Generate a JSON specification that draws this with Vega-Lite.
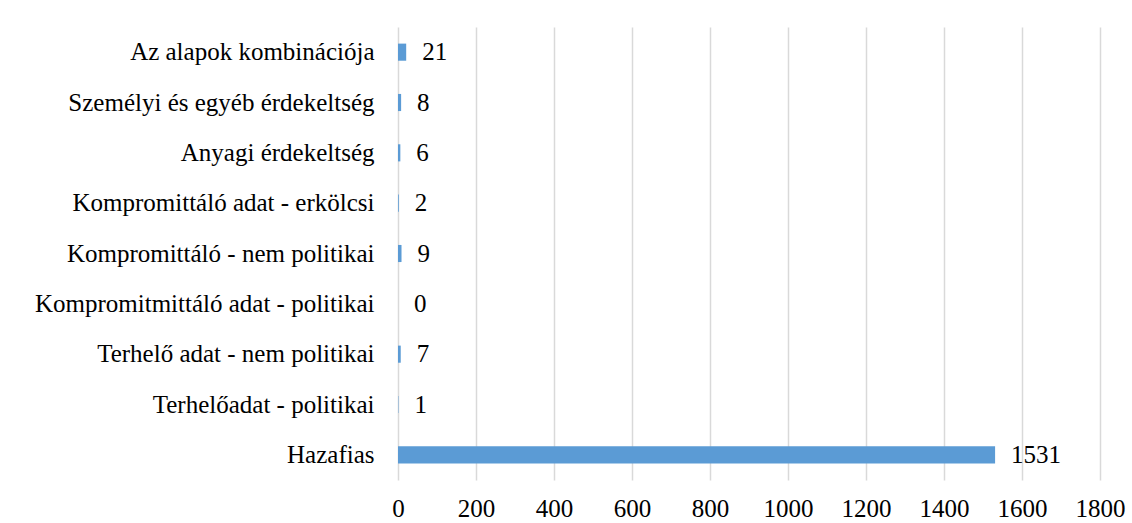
{
  "$schema": "https://vega.github.io/schema/vega-lite/v6.json",
  "autosize": "none",
  "width": 702,
  "height": 453,
  "padding": {"left": 398, "top": 27, "right": 32, "bottom": 43},
  "background": "white",
  "config": {
    "view": {"stroke": null},
    "font": "'Liberation Serif', 'DejaVu Serif', serif"
  },
  "data": {
    "values": [
      {"kategoria": "Az alapok kombinációja", "db": 21},
      {"kategoria": "Személyi és egyéb érdekeltség", "db": 8},
      {"kategoria": "Anyagi érdekeltség", "db": 6},
      {"kategoria": "Kompromittáló adat - erkölcsi", "db": 2},
      {"kategoria": "Kompromittáló - nem politikai", "db": 9},
      {"kategoria": "Kompromitmittáló adat - politikai", "db": 0},
      {"kategoria": "Terhelő adat - nem politikai", "db": 7},
      {"kategoria": "Terhelőadat - politikai", "db": 1},
      {"kategoria": "Hazafias", "db": 1531}
    ]
  },
  "encoding": {
    "y": {
      "field": "kategoria",
      "type": "nominal",
      "sort": null,
      "scale": {"paddingInner": 0.66, "paddingOuter": 0.33},
      "axis": {
        "title": null,
        "domain": false,
        "ticks": false,
        "labelPadding": 24,
        "labelFont": "'Liberation Serif', 'DejaVu Serif', serif",
        "labelFontSize": 25,
        "labelColor": "#000000",
        "labelLimit": 500
      }
    },
    "x": {
      "field": "db",
      "type": "quantitative",
      "scale": {"domain": [0, 1800], "nice": false},
      "axis": {
        "title": null,
        "values": [0, 200, 400, 600, 800, 1000, 1200, 1400, 1600, 1800],
        "format": "d",
        "domain": false,
        "ticks": false,
        "grid": true,
        "gridColor": "#d9d9d9",
        "gridWidth": 1.5,
        "labelPadding": 16,
        "labelFont": "'Liberation Serif', 'DejaVu Serif', serif",
        "labelFontSize": 25,
        "labelColor": "#000000",
        "labelFlush": false
      }
    }
  },
  "layer": [
    {
      "mark": {"type": "bar", "color": "#5b9bd5"}
    },
    {
      "mark": {
        "type": "text",
        "align": "left",
        "baseline": "middle",
        "dx": 16,
        "font": "'Liberation Serif', 'DejaVu Serif', serif",
        "fontSize": 25,
        "color": "#000000"
      },
      "encoding": {
        "text": {"field": "db", "type": "quantitative"}
      }
    }
  ]
}
